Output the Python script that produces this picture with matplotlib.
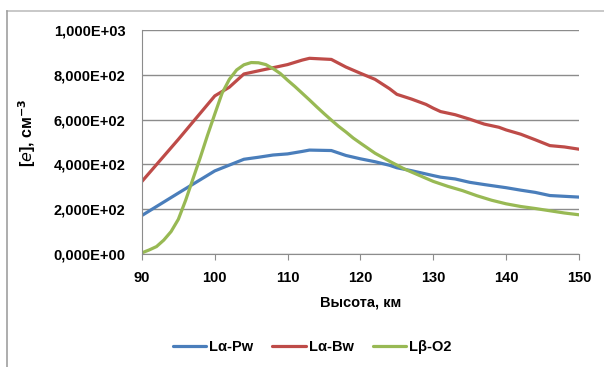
import numpy as np
import matplotlib.pyplot as plt
from matplotlib.lines import Line2D

plt.rcParams['font.family'] = ['Liberation Sans', 'DejaVu Sans']

# Концентрация электронов по высоте (км), см^-3
h_pw = [90, 95, 100, 104, 106, 108, 110, 112, 113, 116, 118, 120, 122, 124, 125, 127,
        130, 131, 133, 135, 137, 140, 142, 144, 146, 150]
ne_pw = [172, 272, 371, 423, 432, 442, 447, 458, 464, 462, 440, 425, 412, 396, 385, 372,
         350, 343, 335, 320, 310, 296, 285, 275, 261, 254]

h_bw = [90, 95, 100, 102, 104, 106, 108, 110, 112, 113, 116, 118, 120, 122, 124, 125,
        127, 129, 130, 131, 133, 135, 137, 139, 140, 142, 144, 146, 148, 150]
ne_bw = [324, 512, 706, 745, 804, 818, 832, 846, 866, 874, 869, 835, 807, 780, 738, 713,
         692, 668, 651, 636, 622, 602, 580, 566, 554, 535, 510, 484, 478, 468]

h_o2 = [90, 91, 92, 93, 94, 95, 96, 97, 98, 99, 100, 101, 102, 103, 104, 105, 106, 107,
        108, 109, 110, 111, 112, 113, 114, 115, 116, 117, 118, 119, 120, 122, 124, 126,
        128, 130, 132, 134, 136, 138, 140, 142, 144, 146, 148, 150]
ne_o2 = [5, 18, 33, 62, 100, 155, 240, 335, 430, 530, 625, 718, 780, 822, 845, 855, 854,
         846, 828, 806, 776, 748, 718, 688, 657, 627, 598, 570, 545, 518, 495, 450, 414,
         380, 352, 324, 302, 283, 260, 240, 224, 212, 203, 193, 183, 175]

fig = plt.figure(figsize=(6.04, 3.67), dpi=100)
ax = fig.add_axes([0.235, 0.308, 0.7236, 0.610])

ax.plot(h_pw, ne_pw, color='#4a7ebb', lw=2.3, label='Lα-Pw', solid_capstyle='round')
ax.plot(h_bw, ne_bw, color='#be4b48', lw=2.3, label='Lα-Bw', solid_capstyle='round')
ax.plot(h_o2, ne_o2, color='#98b954', lw=2.3, label='Lβ-O2', solid_capstyle='round')

ax.set_xlim(90, 150)
ax.set_ylim(0, 1000)
ax.set_xticks(np.arange(90, 151, 10))
ax.set_yticks(np.arange(0, 1001, 200))
ax.set_yticklabels(['0,000E+00', '2,000E+02', '4,000E+02', '6,000E+02',
                    '8,000E+02', '1,000E+03'])
ax.yaxis.grid(True, color='#8c8c8c', lw=1.0)
ax.set_axisbelow(True)
for s in ['top', 'right']:
    ax.spines[s].set_visible(False)
for s in ['left', 'bottom']:
    ax.spines[s].set_color('#8c8c8c')
ax.tick_params(axis='y', length=0, pad=12, labelsize=10.5)
ax.tick_params(axis='x', length=4, color='#8c8c8c', pad=8, labelsize=10.5)
for lbl in ax.get_xticklabels() + ax.get_yticklabels():
    lbl.set_fontweight('bold')

ax.set_xlabel('Высота, км', fontsize=10.5, fontweight='bold', labelpad=8)
ax.set_ylabel(r'[$\mathit{e}$], см$^{\mathbf{-3}}$', fontsize=11.5, fontweight='bold')
ax.yaxis.set_label_coords(-0.238, 0.54)

leg = fig.legend(loc='center', bbox_to_anchor=(0.517, 0.055), ncol=3, frameon=False,
                 fontsize=10.5, handlelength=2.3, handletextpad=0.2, columnspacing=1.3)
for t in leg.get_texts():
    t.set_fontweight('bold')

# рамка области диаграммы
fig.add_artist(Line2D([7 / 604, 1], [1 - 11 / 367] * 2, color='#bfbfbf', lw=1.2))
fig.add_artist(Line2D([7.5 / 604] * 2, [0, 1 - 11 / 367], color='#a0a0a0', lw=1.2))

fig.savefig('out.png', dpi=100)
